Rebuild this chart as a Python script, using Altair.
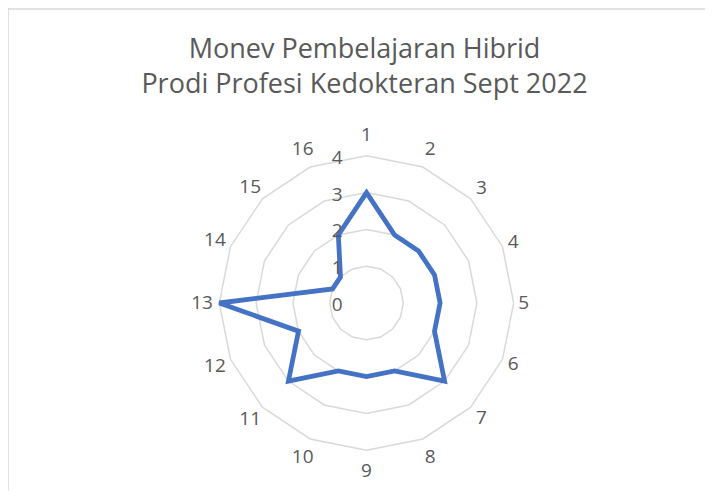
import altair as alt
import pandas as pd

categories = [str(i) for i in range(1, 17)]
values = [3, 2, 2, 2, 2, 2, 3, 2, 2, 2, 3, 2, 4, 1, 1, 2]
levels = [1, 2, 3, 4]
tick_values = [0, 1, 2, 3, 4]
title_lines = ["Monev Pembelajaran Hibrid", "Prodi Profesi Kedokteran Sept 2022"]

W, H = 697, 483
K = 36.8
CX, CY = 358.5, 295.0
N = len(categories)

df = pd.DataFrame({"cat": categories, "idx": list(range(N)), "value": values})
grid = pd.DataFrame(
    [{"level": lv, "idx": i} for lv in levels for i in range(N)]
)
ticks = pd.DataFrame({"v": tick_values, "lab": [str(v) for v in tick_values]})

xs = alt.Scale(domain=[-CX / K, (W - CX) / K], nice=False, zero=False)
ys = alt.Scale(domain=[-(H - CY) / K, CY / K], nice=False, zero=False)
X = alt.X("x:Q", scale=xs, axis=None)
Y = alt.Y("y:Q", scale=ys, axis=None)

theta = f"datum.idx * 2 * PI / {N}"

grid_layer = alt.Chart(grid).transform_calculate(
    x=f"datum.level * sin({theta})", y=f"datum.level * cos({theta})"
).mark_line(interpolate="linear-closed", stroke="#d9d9d9", strokeWidth=1.5).encode(
    x=X, y=Y, detail="level:N", order="idx:Q"
)

data_layer = alt.Chart(df).transform_calculate(
    x=f"datum.value * sin({theta})", y=f"datum.value * cos({theta})"
).mark_line(interpolate="linear-closed", stroke="#4472C4", strokeWidth=4.8).encode(
    x=X, y=Y, order="idx:Q"
)

label_layer = alt.Chart(df).transform_calculate(
    r=f"4.27 + 0.3 * pow(cos({theta}), 2) + 0.2 * (length(datum.cat) - 1) * pow(sin({theta}), 4)"
).transform_calculate(
    x=f"datum.r * sin({theta})", y=f"datum.r * cos({theta})"
).mark_text(font="Open Sans", fontSize=19, color="#595959", align="center", baseline="middle").encode(
    x=X, y=Y, text="cat:N"
)

tick_layer = alt.Chart(ticks).transform_calculate(
    x="0", y="datum.v"
).mark_text(font="Open Sans", fontSize=19, color="#595959", align="right", baseline="middle", dx=-24, dy=2).encode(
    x=X, y=Y, text="lab:N"
)

frame = pd.DataFrame({"a": [0]})
left_rule = alt.Chart(frame).mark_rule(stroke="#d9d9d9", strokeWidth=1.5).encode(
    x=alt.value(0), y=alt.value(0), y2=alt.value(H)
)
top_rule = alt.Chart(frame).mark_rule(stroke="#d9d9d9", strokeWidth=1.5).encode(
    x=alt.value(0), x2=alt.value(W), y=alt.value(1)
)

chart = alt.layer(left_rule, top_rule, grid_layer, data_layer, label_layer, tick_layer).properties(
    width=W,
    height=H,
    autosize=alt.AutoSizeParams(type="none"),
    padding=0,
    title=alt.TitleParams(
        text=title_lines,
        font="Open Sans",
        fontSize=27,
        fontWeight="normal",
        color="#595959",
        anchor="middle",
        frame="group",
        orient="top",
        baseline="top",
        offset=0,
        dy=92,
        dx=8,
        lineHeight=35,
    ),
).configure_view(stroke=None)

chart.save("out.html", embed_options={"renderer": "svg", "actions": False})
